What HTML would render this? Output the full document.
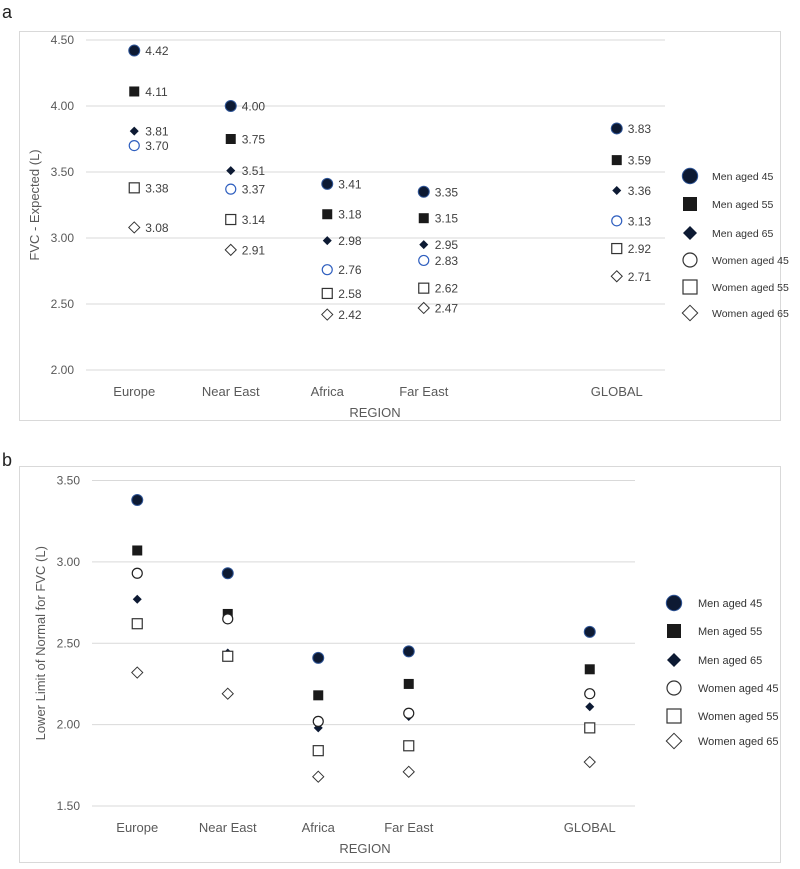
<!DOCTYPE html>
<html><head><meta charset="utf-8"><style>
body{margin:0;background:#fff;width:800px;height:864px;overflow:hidden;font-family:"Liberation Sans",sans-serif}
svg text{font-family:"Liberation Sans",sans-serif}
</style></head><body>
<svg id="svg" width="800" height="864">
<text x="2" y="18" font-size="18" fill="#222">a</text>
<rect x="19.5" y="31.5" width="761" height="389" fill="none" stroke="#d9d9d9"/>
<text x="2" y="466" font-size="18" fill="#222">b</text>
<rect x="19.5" y="466.5" width="761" height="396" fill="none" stroke="#d9d9d9"/>
<g id="ga"></g><g id="gb"></g>
</svg>
<script>
const categories=["Europe","Near East","Africa","Far East","","GLOBAL"];
const seriesNames=["Men aged 45","Men aged 55","Men aged 65","Women aged 45","Women aged 55","Women aged 65"];
const aMen45=[4.42,4.00,3.41,3.35,null,3.83];
const aMen55=[4.11,3.75,3.18,3.15,null,3.59];
const aMen65=[3.81,3.51,2.98,2.95,null,3.36];
const aWomen45=[3.70,3.37,2.76,2.83,null,3.13];
const aWomen55=[3.38,3.14,2.58,2.62,null,2.92];
const aWomen65=[3.08,2.91,2.42,2.47,null,2.71];
const aTicks=[2.00,2.50,3.00,3.50,4.00,4.50];
const bMen45=[3.38,2.93,2.41,2.45,null,2.57];
const bMen55=[3.07,2.68,2.18,2.25,null,2.34];
const bMen65=[2.77,2.44,1.98,2.05,null,2.11];
const bWomen45=[2.93,2.65,2.02,2.07,null,2.19];
const bWomen55=[2.62,2.42,1.84,1.87,null,1.98];
const bWomen65=[2.32,2.19,1.68,1.71,null,1.77];
const bTicks=[1.50,2.00,2.50,3.00,3.50];
const NS="http://www.w3.org/2000/svg";
function mk(p,tag,at){const e=document.createElementNS(NS,tag);for(const k in at)e.setAttribute(k,at[k]);p.appendChild(e);return e;}
function marker(g,type,x,y,s,w45c){
 let e;
 if(type===0){e=mk(g,'circle',{cx:x,cy:y,r:s*0.55,fill:'#0d1a33',stroke:'#2f5597','stroke-width':1});}
 else if(type===1){e=mk(g,'rect',{x:x-s*0.5,y:y-s*0.5,width:s,height:s,fill:'#1a1a1a'});}
 else if(type===2){const d=s*0.5;e=mk(g,'polygon',{points:`${x},${y-d} ${x+d},${y} ${x},${y+d} ${x-d},${y}`,fill:'#0d1a33'});}
 else if(type===3){e=mk(g,'circle',{cx:x,cy:y,r:s*0.5,fill:'#fff',stroke:w45c,'stroke-width':1.2});}
 else if(type===4){e=mk(g,'rect',{x:x-s*0.5,y:y-s*0.5,width:s,height:s,fill:'#fff',stroke:'#333','stroke-width':1.2});}
 else {const d=s*0.55;e=mk(g,'polygon',{points:`${x},${y-d} ${x+d},${y} ${x},${y+d} ${x-d},${y}`,fill:'#fff',stroke:'#333','stroke-width':1});}
 return e;
}
function draw(gid,cfg,series,ticks){
 const g=document.getElementById(gid);
 const y=v=>cfg.y0+(v-ticks[0])/(ticks[ticks.length-1]-ticks[0])*(cfg.y1-cfg.y0);
 const x=i=>cfg.left+(i+0.5)*cfg.step;
 const right=cfg.left+categories.length*cfg.step;
 ticks.forEach(t=>{
  const l=mk(g,'line',{x1:cfg.left,x2:right,y1:y(t),y2:y(t),stroke:'#d9d9d9'});
  
  
  const tx=mk(g,'text',{x:cfg.left-12,y:y(t)+4,'text-anchor':'end','font-size':12,fill:'#595959'});
  tx.textContent=t.toFixed(2);
  
  
 });
 categories.forEach((c,i)=>{if(!c)return;
  const tx=mk(g,'text',{x:x(i),y:cfg.y0+26,'text-anchor':'middle','font-size':13,fill:'#595959'});
  tx.textContent=c;
  
  
 });
 const xt=mk(g,'text',{x:cfg.titleX,y:cfg.y0+47,'text-anchor':'middle','font-size':13,fill:'#595959'});
 xt.textContent='REGION';
 
 
 const yc=(cfg.y0+cfg.y1)/2;
 const yt=mk(g,'text',{x:0,y:0,'text-anchor':'middle','font-size':13,fill:'#595959',transform:`translate(${cfg.left-47},${yc}) rotate(-90)`});
 yt.textContent=cfg.ytitle;
 
 
 series.forEach((arr,si)=>{
  arr.forEach((v,i)=>{if(v==null)return;
   const m=marker(g,si,x(i),y(v),si===2?9:10,cfg.w45c);
   
   
   if(cfg.labels){
    const tx=mk(g,'text',{x:x(i)+11,y:y(v)+4.5,'font-size':12,fill:'#404040'});
    tx.textContent=v.toFixed(2);
    
    
   }
  });
 });
 seriesNames.forEach((n,si)=>{
  const ly=cfg.legY[si];
  const m=marker(g,si,cfg.legX,ly,14,'#333');
  
  
  const tx=mk(g,'text',{x:cfg.legX+cfg.legDx,y:ly+4,'font-size':cfg.legFs,fill:'#333'});
  tx.textContent=n;
  
  
 });
}
draw('ga',{left:86,step:96.5,y0:370,y1:40,titleX:375,ytitle:'FVC - Expected (L)',labels:true,w45c:'#2f5fbf',legX:690,legDx:22,legFs:10.5,legY:[176,204,233,260,287,313]},[aMen45,aMen55,aMen65,aWomen45,aWomen55,aWomen65],aTicks);
draw('gb',{left:92,step:90.5,y0:806,y1:480.5,titleX:365,ytitle:'Lower Limit of Normal for FVC (L)',labels:false,w45c:'#222',legX:674,legDx:24,legFs:11,legY:[603,631,660,688,716,741]},[bMen45,bMen55,bMen65,bWomen45,bWomen55,bWomen65],bTicks);
</script>
</body></html>
